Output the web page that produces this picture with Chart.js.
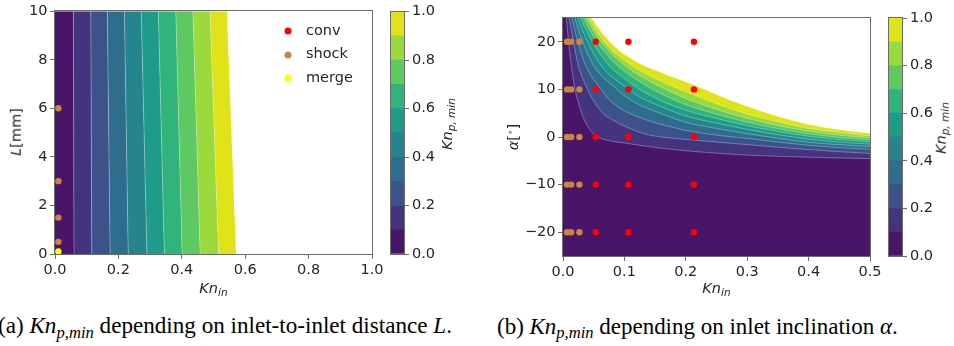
<!DOCTYPE html>
<html>
<head>
<meta charset="utf-8">
<title>Kn_p,min maps</title>
<script src="https://cdn.jsdelivr.net/npm/chart.js@4.4.1/dist/chart.umd.min.js"></script>
<style>
  html, body { margin: 0; padding: 0; background: #fff; }
  #fig { position: relative; width: 954px; height: 346px; overflow: hidden;
         font-family: 'DejaVu Sans', sans-serif; color: #262626; }
  #fig canvas { position: absolute; }
  .t { position: absolute; white-space: nowrap; font-size: 14.5px; line-height: 1; }
  .c { transform: translate(-50%, -50%); }
  .r { transform: translate(-50%, -50%) rotate(-90deg); }
  .t sub { font-size: 10.5px; vertical-align: -3px; line-height: 0; }
  .t sup { font-size: 9px; vertical-align: 5px; line-height: 0; }
  .dot { position: absolute; width: 7px; height: 7px; border-radius: 50%; transform: translate(-50%, -50%); }
  .cap { position: absolute; top: 326px; transform: translateY(-50%); font-family: 'Liberation Serif', 'DejaVu Serif', serif;
         font-size: 18px; white-space: nowrap; color: #000; line-height: 1; }
  .cap sub { font-size: 0.72em; vertical-align: -0.3em; line-height: 0; }
</style>
</head>
<body>
<div id="fig">
  <canvas id="mapL" width="390" height="290" style="left:0;top:0"></canvas>
  <canvas id="barL" width="70" height="290" style="left:380px;top:0"></canvas>
  <canvas id="mapA" width="410" height="300" style="left:480px;top:0"></canvas>
  <canvas id="barA" width="74" height="300" style="left:880px;top:0"></canvas>

  <!-- axis titles -->
  <div class="t c" style="left:213.5px;top:288.3px"><i>Kn</i><sub><i>in</i></sub></div>
  <div class="t r" style="left:15.5px;top:132px"><i>L</i>[mm]</div>
  <div class="t r" style="left:446.5px;top:124px"><i>Kn</i><sub><i>p, min</i></sub></div>

  <div class="t c" style="left:716.5px;top:288.3px"><i>Kn</i><sub><i>in</i></sub></div>
  <div class="t r" style="left:513px;top:137px"><i>α</i>[<sup>∘</sup>]</div>
  <div class="t r" style="left:941px;top:128px"><i>Kn</i><sub><i>p, min</i></sub></div>

  <!-- legend of the L map -->
  <div class="dot" style="left:288px;top:31px;background:#ff0000"></div>
  <div class="t" style="left:306px;top:29.5px;transform:translateY(-50%)">conv</div>
  <div class="dot" style="left:288px;top:54.5px;background:#cd853f"></div>
  <div class="t" style="left:306px;top:53px;transform:translateY(-50%)">shock</div>
  <div class="dot" style="left:288px;top:78px;background:#ffff00"></div>
  <div class="t" style="left:306px;top:76.5px;transform:translateY(-50%)">merge</div>

  <!-- captions -->
  <div class="cap" id="capA" style="left:-2px">(a) <i>Kn</i><sub><i>p,min</i></sub> depending on inlet-to-inlet distance <i>L</i>.</div>
  <div class="cap" id="capB" style="left:497px">(b) <i>Kn</i><sub><i>p,min</i></sub> depending on inlet inclination <i>α</i>.</div>
</div>

<script>
// ---- contour levels and their viridis band colours ----
const levels = [0.0, 0.1, 0.2, 0.3, 0.4, 0.5, 0.6, 0.7, 0.8, 0.9, 1.0];
const bandColors = ['#481568', '#46337f', '#3b528b', '#2e6d8e', '#25848e',
                    '#1f9c89', '#30b47b', '#5ec962', '#9bd93c', '#dfe318'];
const cbarTicks = [0.0, 0.2, 0.4, 0.6, 0.8, 1.0];

// ---- map (a): Kn_in at which each level is reached, at L = 0 and L = 10 mm ----
const knLevelAtL0  = [0.060, 0.116, 0.174, 0.231, 0.290, 0.345, 0.401, 0.458, 0.516, 0.571];
const knLevelAtL10 = [0.058, 0.113, 0.165, 0.219, 0.272, 0.326, 0.381, 0.435, 0.489, 0.542];
const lRange = [0, 10];
const knRangeA = [0, 1];
const lTicks = [0, 2, 4, 6, 8, 10];
const knTicksA = [0.0, 0.2, 0.4, 0.6, 0.8, 1.0];
const knPointsA = 0.0107;
const shockL = [0.5, 1.5, 3, 6];
const mergeL = [0.1];

// ---- map (b): iso-lines of Kn_p,min as [Kn_in, alpha] pairs ----
const isoB01 = [[0.0034,28],[0.0055,25],[0.009,20],[0.0135,15],[0.0195,10],[0.0245,7.5],[0.031,4.7],[0.040,2.3],[0.050,0.6],[0.062,-0.3],[0.080,-0.9],[0.1,-1.25],[0.15,-2.2],[0.2,-2.9],[0.3,-3.8],[0.4,-4.25],[0.5,-4.55],[0.55,-4.65]];
const isoB02 = [[0.0058,28],[0.0100,25],[0.017,20],[0.025,15],[0.040,10],[0.049,7.75],[0.065,5.0],[0.0815,3.5],[0.1,2.3],[0.13,0.75],[0.15,0.2],[0.2,-0.5],[0.3,-1.6],[0.4,-2.65],[0.5,-3.45],[0.55,-3.7]];
const isoB03 = [[0.0088,28],[0.0145,25],[0.024,20],[0.037,15],[0.062,10],[0.078,7.5],[0.1,5.5],[0.125,4.1],[0.15,3.0],[0.2,1.4],[0.25,0.4],[0.3,-0.3],[0.4,-1.75],[0.5,-2.6],[0.55,-2.9]];
const isoB04 = [[0.0112,28],[0.019,25],[0.032,20],[0.050,15],[0.088,10],[0.1,8.7],[0.125,6.7],[0.15,5.4],[0.2,3.1],[0.25,1.8],[0.3,0.7],[0.4,-1.1],[0.5,-2.0],[0.55,-2.3]];
const isoB05 = [[0.0136,28],[0.0235,25],[0.040,20],[0.062,15],[0.107,10],[0.125,8.4],[0.15,6.9],[0.2,4.4],[0.25,2.9],[0.3,1.6],[0.4,-0.45],[0.5,-1.5],[0.55,-1.8]];
const isoB06 = [[0.016,28],[0.028,25],[0.048,20],[0.075,15],[0.1,12.3],[0.125,10],[0.15,8.2],[0.2,5.6],[0.25,3.9],[0.3,2.4],[0.4,0.15],[0.5,-1.0],[0.55,-1.3]];
const isoB07 = [[0.019,28],[0.0325,25],[0.055,20],[0.088,15],[0.1,13.8],[0.125,11.6],[0.15,9.7],[0.2,6.8],[0.25,4.8],[0.3,3.1],[0.4,0.65],[0.5,-0.6],[0.55,-0.9]];
const isoB08 = [[0.022,28],[0.037,25],[0.062,20],[0.101,15],[0.125,12.9],[0.15,11.1],[0.2,8.1],[0.25,5.8],[0.3,3.9],[0.4,1.2],[0.5,-0.2],[0.55,-0.55]];
const isoB09 = [[0.025,28],[0.0415,25],[0.067,20],[0.112,15],[0.15,12.3],[0.2,9.5],[0.25,7.0],[0.3,4.8],[0.35,3.2],[0.4,1.8],[0.45,0.95],[0.5,0.25],[0.55,-0.2]];
const isoB10 = [[0.028,28],[0.046,25],[0.0533,23.7],[0.064,21.8],[0.076,20.0],[0.09,18.3],[0.1066,16.8],[0.125,15.4],[0.15,14.0],[0.18,12.5],[0.2132,10.9],[0.25,8.9],[0.3,6.4],[0.35,4.3],[0.4,2.6],[0.45,1.5],[0.5,0.75],[0.55,0.2]];
const alphaRange = [-25, 25];
const knRangeB = [0, 0.5];
const alphaTicks = [-20, -10, 0, 10, 20];
const knTicksB = [0.0, 0.1, 0.2, 0.3, 0.4, 0.5];
const alphaRows = [-20, -10, 0, 10, 20];
const knShockB = [0.0067, 0.0133, 0.0267];
const knConvB = [0.0533, 0.1066, 0.2132];

// ---- styling ----
const INK = '#262626';
const SPINE = '#6b6b6b';
const SEAM = 'rgba(255,255,255,0.38)';
Chart.defaults.font.family = "'DejaVu Sans', sans-serif";
Chart.defaults.font.size = 14.5;
Chart.defaults.color = INK;
Chart.defaults.animation = false;

// outline around each plotting area, drawn over the marks like axis spines
const frame = {
  id: 'frame',
  afterDraw(chart) {
    const { ctx, chartArea: a } = chart;
    ctx.save();
    ctx.strokeStyle = SPINE;
    ctx.lineWidth = 1;
    ctx.strokeRect(Math.round(a.left) - 0.5, Math.round(a.top) - 0.5,
                   Math.round(a.right) - Math.round(a.left) + 1, Math.round(a.bottom) - Math.round(a.top) + 1);
    ctx.restore();
  }
};

const baseOpts = (pad) => ({
  responsive: false,
  events: [],
  layout: { padding: pad },
  plugins: { legend: { display: false }, tooltip: { enabled: false } }
});

// linear axis with a fixed list of tick values and a fixed thickness
const axis = (range, tickValues, fmt, size, isY) => ({
  type: 'linear', min: range[0], max: range[1],
  afterBuildTicks: (s) => { s.ticks = tickValues.map((v) => ({ value: v })); },
  ticks: { padding: 2.5, callback: fmt, color: INK },
  grid: { drawOnChartArea: false, drawTicks: true, tickLength: 5, color: SPINE, lineWidth: 1 },
  border: { display: false },
  afterFit: (s) => { if (isY) s.width = size; else s.height = size; }
});

const fmt1 = (v) => v.toFixed(1);
const fmtInt = (v) => (v < 0 ? '\u2212' + Math.abs(v) : String(v));

const pointSet = (pts, color) => ({
  data: pts, showLine: false, pointRadius: 3.2, pointBackgroundColor: color,
  pointBorderWidth: 0, clip: 0, order: 0
});

// ================= map (a) =================
const bandsA = bandColors.map((color, i) => {
  const x0 = i === 0 ? knRangeA[0] : knLevelAtL0[i - 1];
  const x10 = i === 0 ? knRangeA[0] : knLevelAtL10[i - 1];
  return {
    data: [{ x: x0, y: lRange[0] }, { x: x10, y: lRange[1] },
           { x: knLevelAtL10[i], y: lRange[1] }, { x: knLevelAtL0[i], y: lRange[0] }],
    showLine: true, fill: 'shape', backgroundColor: color, borderWidth: 0,
    pointRadius: 0, order: 5
  };
});
const seamsA = knLevelAtL0.slice(0, -1).map((x0, i) => ({
  data: [{ x: x0, y: lRange[0] }, { x: knLevelAtL10[i], y: lRange[1] }],
  showLine: true, fill: false, borderColor: SEAM, borderWidth: 0.8, pointRadius: 0, order: 4
}));

new Chart(document.getElementById('mapL'), {
  type: 'scatter',
  data: {
    datasets: [
      pointSet(shockL.map((l) => ({ x: knPointsA, y: l })), '#cd853f'),
      pointSet(mergeL.map((l) => ({ x: knPointsA, y: l })), '#ffff00'),
      ...seamsA,
      ...bandsA
    ]
  },
  options: Object.assign(baseOpts({ left: 0, top: 10, right: 18, bottom: 6 }), {
    scales: {
      x: axis(knRangeA, knTicksA, fmt1, 30, false),
      y: axis(lRange, lTicks, fmtInt, 55, true)
    }
  }),
  plugins: [frame]
});

// ================= map (b) =================
const isoLinesB = [isoB01, isoB02, isoB03, isoB04, isoB05, isoB06, isoB07, isoB08, isoB09, isoB10];
// each iso-line paints the band above it; later lines cover earlier ones
const fillsB = isoLinesB.map((pts, i) => ({
  data: pts.map(([x, y]) => ({ x, y })),
  showLine: true, fill: 'end',
  backgroundColor: i < bandColors.length - 1 ? bandColors[i + 1] : '#ffffff',
  borderColor: i < isoLinesB.length - 1 ? SEAM : 'rgba(0,0,0,0)',
  borderWidth: i < isoLinesB.length - 1 ? 0.8 : 0,
  cubicInterpolationMode: 'monotone', capBezierPoints: false,
  pointRadius: 0, order: isoLinesB.length - i
}));
const floorB = {
  data: [{ x: knRangeB[0], y: alphaRange[0] }, { x: knRangeB[1], y: alphaRange[0] }],
  showLine: true, fill: 'end', backgroundColor: bandColors[0], borderWidth: 0,
  pointRadius: 0, order: isoLinesB.length + 1
};
const grid = (kns) => alphaRows.flatMap((a) => kns.map((k) => ({ x: k, y: a })));

new Chart(document.getElementById('mapA'), {
  type: 'scatter',
  data: {
    datasets: [
      pointSet(grid(knConvB), '#ff0000'),
      pointSet(grid(knShockB), '#cd853f'),
      ...fillsB,
      floorB
    ]
  },
  options: Object.assign(baseOpts({ left: 0, top: 18, right: 20, bottom: 14 }), {
    scales: {
      x: axis(knRangeB, knTicksB, fmt1, 30, false),
      y: axis(alphaRange, alphaTicks, fmtInt, 83, true)
    }
  }),
  plugins: [frame]
});

// ================= colour bars =================
function colorBar(id, pad, axisWidth) {
  new Chart(document.getElementById(id), {
    type: 'bar',
    data: {
      labels: [''],
      datasets: bandColors.map((c, i) => ({
        data: [[levels[i], levels[i + 1]]], backgroundColor: c, borderWidth: 0,
        barPercentage: 1, categoryPercentage: 1, grouped: false
      }))
    },
    options: Object.assign(baseOpts(pad), {
      scales: {
        x: { display: false },
        y: {
          position: 'right', min: levels[0], max: levels[levels.length - 1],
          afterBuildTicks: (s) => { s.ticks = cbarTicks.map((v) => ({ value: v })); },
          ticks: { padding: 3, callback: fmt1, color: INK },
          grid: { drawOnChartArea: false, drawTicks: true, tickLength: 5, color: SPINE },
          border: { display: false },
          afterFit: (s) => { s.width = axisWidth; }
        }
      }
    }),
    plugins: [frame]
  });
}
colorBar('barL', { left: 11, top: 10, right: 0, bottom: 36 }, 46);
colorBar('barA', { left: 9, top: 18, right: 0, bottom: 44 }, 52);

// ---- fit caption widths to their columns ----
function fitWidth(el, target) {
  const w = el.getBoundingClientRect().width;
  const fs = parseFloat(getComputedStyle(el).fontSize);
  el.style.fontSize = (fs * target / w) + 'px';
}
fitWidth(document.getElementById('capA'), 454);
fitWidth(document.getElementById('capB'), 401);
</script>
</body>
</html>
